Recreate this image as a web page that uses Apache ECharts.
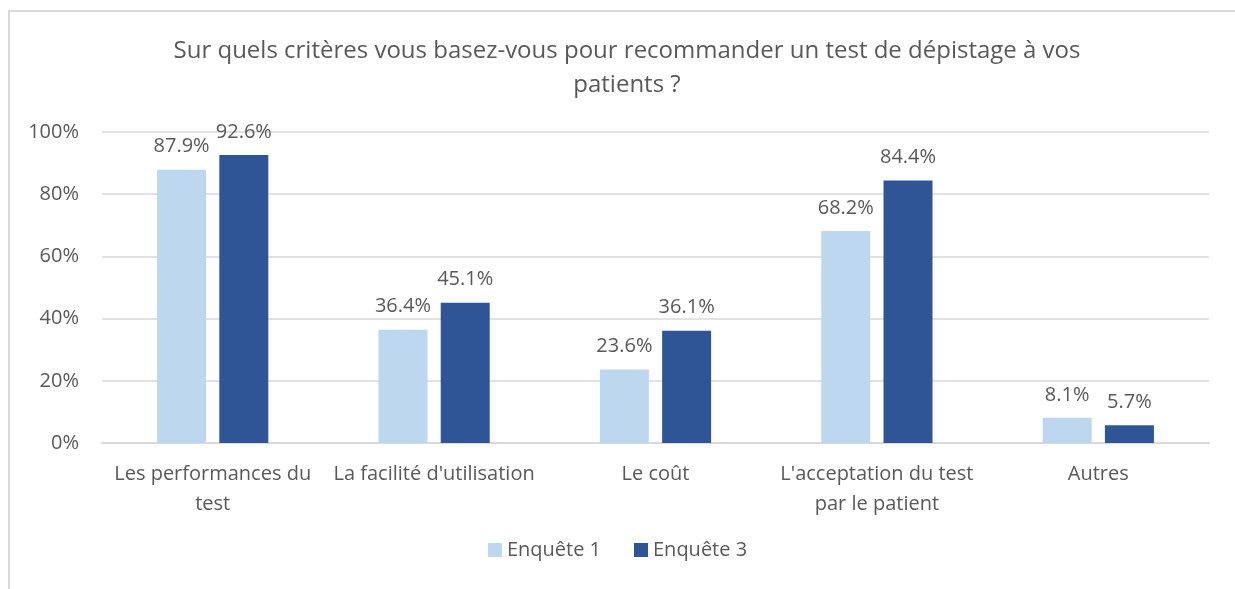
<!DOCTYPE html>
<html>
<head>
<meta charset="utf-8">
<script src="https://cdn.jsdelivr.net/npm/echarts@6/dist/echarts.min.js"></script>
<style>
  html, body { margin: 0; padding: 0; background: #fff; }
  #chart { width: 1235px; height: 589px; }
</style>
</head>
<body>
<div id="chart"></div>
<script>
var categories = ['Les performances du\ntest', "La facilité d'utilisation", 'Le coût', "L'acceptation du test\npar le patient", 'Autres']
var enquete1 = [87.9, 36.4, 23.6, 68.2, 8.1]
var enquete3 = [92.6, 45.1, 36.1, 84.4, 5.7]
var yTicks = [0, 20, 40, 60, 80, 100]

var font = '"Open Sans", "Liberation Sans", sans-serif'
var textColor = '#595959'

var chart = echarts.init(document.getElementById('chart'))
var option = {
  animation: false,
  textStyle: { fontFamily: font },
  graphic: [{
    type: 'polyline',
    shape: { points: [[9, 600], [9, 11], [1240, 11]] },
    style: { stroke: '#d9d9d9', lineWidth: 2, fill: null }
  }],
  title: {
    text: 'Sur quels critères vous basez-vous pour recommander un test de dépistage à vos\npatients ?',
    left: 622,
    textAlign: 'center',
    top: 29,
    textStyle: { fontFamily: font, fontSize: 24, fontWeight: 'normal', color: textColor, lineHeight: 34 }
  },
  legend: {
    bottom: 24,
    left: 'center',
    itemWidth: 14,
    itemHeight: 14,
    itemGap: 33,
    icon: 'rect',
    textStyle: { fontFamily: font, fontSize: 20, color: textColor }
  },
  grid: { left: 102, right: 26, top: 132, bottom: 146 },
  xAxis: {
    type: 'category',
    data: categories,
    axisLine: { lineStyle: { color: '#d9d9d9', width: 2 } },
    axisTick: { show: false },
    axisLabel: { fontFamily: font, fontSize: 20, color: textColor, lineHeight: 30, margin: 16, interval: 0 }
  },
  yAxis: {
    type: 'value',
    min: 0,
    max: 100,
    interval: 20,
    axisLine: { show: false },
    axisTick: { show: false },
    splitLine: { lineStyle: { color: '#d9d9d9', width: 1.5 } },
    axisLabel: {
      fontFamily: font, fontSize: 20, color: textColor, margin: 23,
      formatter: function (v) { return yTicks.indexOf(v) >= 0 ? v + '%' : '' }
    }
  },
  series: [{
    name: 'Enquête 1',
    type: 'bar',
    data: enquete1,
    barWidth: 49,
    barGap: '27%',
    itemStyle: { color: '#BDD7EE' },
    label: {
      show: true, position: 'top', distance: 13,
      fontFamily: font, fontSize: 20, color: textColor,
      formatter: function (p) { return p.value.toFixed(1) + '%' }
    }
  }, {
    name: 'Enquête 3',
    type: 'bar',
    data: enquete3,
    barWidth: 49,
    itemStyle: { color: '#2F5597' },
    label: {
      show: true, position: 'top', distance: 13,
      fontFamily: font, fontSize: 20, color: textColor,
      formatter: function (p) { return p.value.toFixed(1) + '%' }
    }
  }]
}
chart.setOption(option)
</script>
</body>
</html>
